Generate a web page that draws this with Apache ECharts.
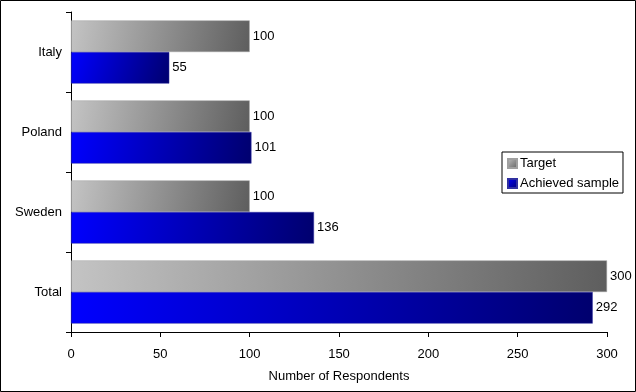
<!DOCTYPE html>
<html><head><meta charset="utf-8">
<script src="https://cdn.jsdelivr.net/npm/echarts@6/dist/echarts.min.js"></script>
<style>html,body{margin:0;padding:0;background:#fff}#c{width:636px;height:392px}</style>
</head><body><div id="c"></div>
<script>
const categories = ['Italy', 'Poland', 'Sweden', 'Total'];
const targetValues = [100, 100, 100, 300];
const achievedValues = [55, 101, 136, 292];
const xTicks = [0, 50, 100, 150, 200, 250, 300];
const seriesNames = ['Target', 'Achieved sample'];
const axisTitle = 'Number of Respondents';

const FONT = 'Liberation Sans, Arial, sans-serif';
const FS = 13;
const grayGrad = new echarts.graphic.LinearGradient(0, 0, 1, 1, [
  {offset: 0, color: '#c4c4c4'}, {offset: 1, color: '#5e5e5e'}]);
const blueGrad = new echarts.graphic.LinearGradient(0, 0, 1, 1, [
  {offset: 0, color: '#0000ff'}, {offset: 1, color: '#00006e'}]);

const chart = echarts.init(document.getElementById('c'), null, {renderer: 'canvas'});
chart.setOption({
  animation: false,
  backgroundColor: '#fff',
  textStyle: {fontFamily: FONT},
  graphic: [{type: 'rect', shape: {x: 0.5, y: 0.5, width: 635, height: 391},
    style: {fill: 'none', stroke: '#000', lineWidth: 1}, silent: true, z: 100}],
  grid: {left: 71, right: 29, top: 12, bottom: 60, containLabel: false},
  legend: {
    orient: 'vertical', left: 502, top: 152, itemWidth: 9, itemHeight: 9, itemGap: 7,
    padding: [5, 4, 3, 5], borderColor: '#000', borderWidth: 1,
    textStyle: {fontFamily: FONT, fontSize: FS, color: '#000', padding: [0, 0, 0, -2]},
    data: [{name: seriesNames[0], icon: 'rect'},
           {name: seriesNames[1], icon: 'rect'}]
  },
  xAxis: {
    type: 'value', min: xTicks[0], max: xTicks[xTicks.length - 1], interval: 50,
    name: axisTitle, nameLocation: 'middle', nameGap: 38,
    nameTextStyle: {fontFamily: FONT, fontSize: FS, color: '#000'},
    axisLine: {show: true, lineStyle: {color: '#000', width: 1}},
    axisTick: {show: true, length: 5, lineStyle: {color: '#000'}},
    axisLabel: {fontFamily: FONT, fontSize: FS, color: '#000', margin: 16},
    splitLine: {show: false}
  },
  yAxis: {
    type: 'category', data: categories, inverse: true,
    axisLine: {show: true, lineStyle: {color: '#000', width: 1}},
    axisTick: {show: true, length: 5, lineStyle: {color: '#000'}},
    axisLabel: {fontFamily: FONT, fontSize: FS, color: '#000', margin: 9}
  },
  series: [
    {name: seriesNames[0], type: 'bar', data: targetValues, barGap: '0%', barCategoryGap: '21%',
     itemStyle: {color: grayGrad, borderColor: '#a0a0a0', borderWidth: 0.5},
     label: {show: true, position: 'right', distance: 3, fontFamily: FONT, fontSize: FS, color: '#000'}},
    {name: seriesNames[1], type: 'bar', data: achievedValues, barGap: '0%', barCategoryGap: '21%',
     itemStyle: {color: blueGrad, borderColor: '#3030a0', borderWidth: 0.5},
     label: {show: true, position: 'right', distance: 3, fontFamily: FONT, fontSize: FS, color: '#000'}}
  ]
});
</script></body></html>
